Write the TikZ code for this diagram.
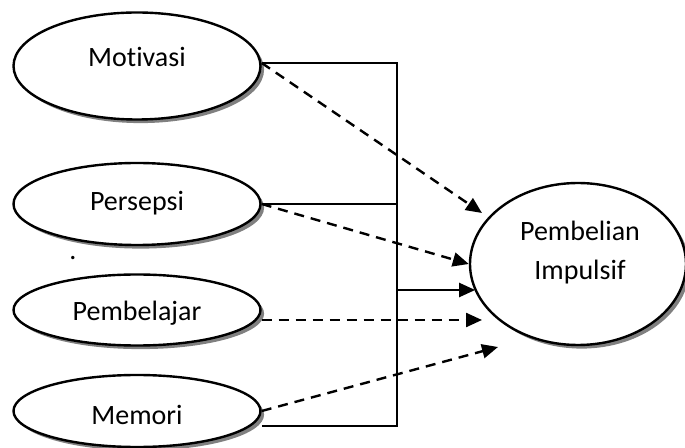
\documentclass[tikz,border=0pt]{standalone}
\usepackage{fontspec}
\setmainfont{Carlito}[Ligatures=NoCommon]
\usetikzlibrary{shapes.geometric,shadows,arrows.meta}
\begin{document}
\begin{tikzpicture}[x=0.5pt, y=-0.5pt, line width=1.2pt,
        var/.style={ellipse, draw, fill=white, inner sep=0pt, minimum width=123.5pt,
            drop shadow={shadow xshift=1.8pt, shadow yshift=-1.8pt, fill=gray, opacity=1}},
        lbl/.style={font=\fontsize{14}{19.5}\selectfont, align=center, inner sep=0pt},
        tip/.style={-{Triangle[length=8pt, width=7pt]}},
        dsh/.style={tip, dash pattern=on 5pt off 3.5pt}]
        \useasboundingbox (0, 0) rectangle (685, 448);
        \node [var, minimum height=53.5pt] (mot) at (137, 66) {};
        \node [var, minimum height=41pt] (pers) at (137, 204) {};
        \node [var, minimum height=35.5pt] (pembl) at (137, 310) {};
        \node [var, minimum height=36pt] (mem) at (137, 411) {};
        \node [var, minimum width=108pt, minimum height=81pt] (pemb) at (578, 264) {};
        \node [lbl] at (137, 57) {Motivasi};
        \node [lbl] at (137, 203) {Persepsi};
        \node [lbl] at (137, 313) {Pembelajar};
        \node [lbl] at (137, 415) {Memori};
        \node [lbl] at (580, 253) {Pembelian\\Impulsif};
        \node [lbl] (dot) at (73, 258) {.};
        \coordinate (bt) at (397, 63);
        \coordinate (bb) at (397, 426);
        \coordinate (bm) at (397, 290);
        \coordinate (t1) at (482, 213);
        \coordinate (t3) at (482, 320);
        \coordinate (t4) at (498, 347);
        \draw (bt -| mot.east) -- (bt) -- (bb) -- (mem.east |- bb);
        \draw (pers.east) -- (pers.east -| bt);
        \draw [tip] (bm) -- (bm -| pemb.195);
        \draw [dsh] (bt -| mot.east) -- (t1);
        \draw [dsh] (pers.east) -- (pemb.west);
        \draw [dsh] (pembl.east |- t3) -- (t3);
        \draw [dsh] (mem.east) -- (t4);
    \end{tikzpicture}
\end{document}
